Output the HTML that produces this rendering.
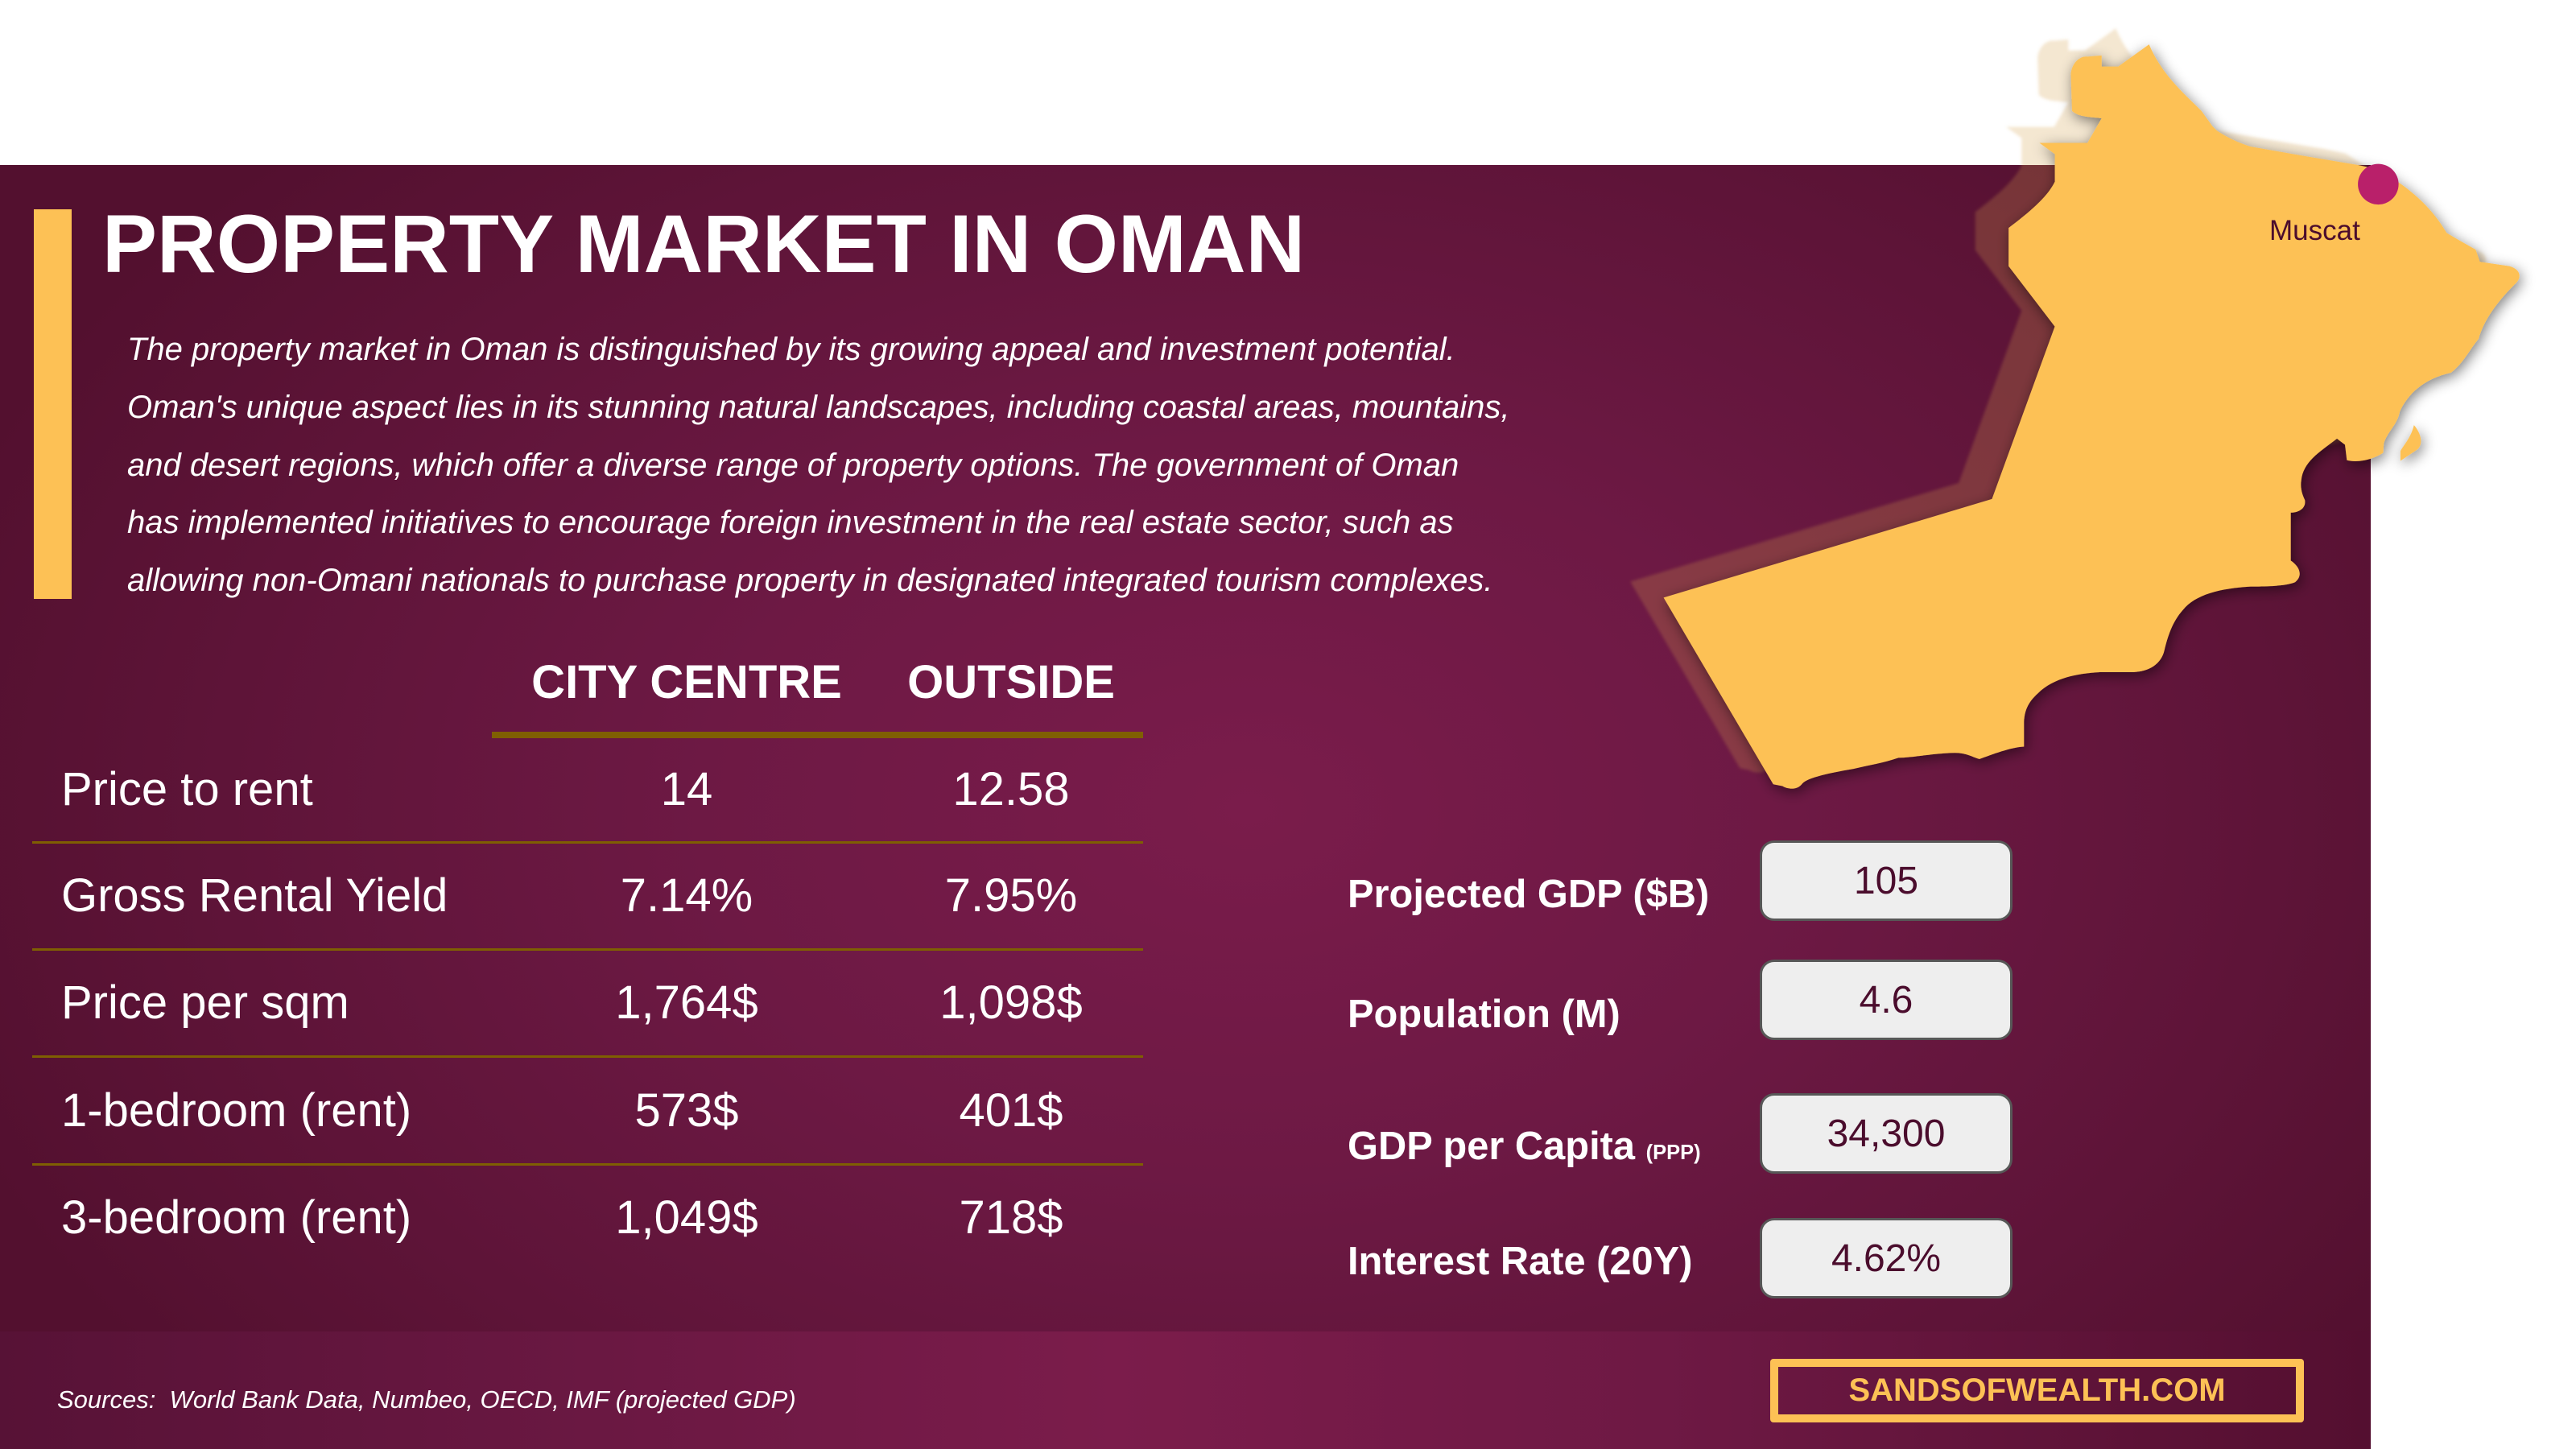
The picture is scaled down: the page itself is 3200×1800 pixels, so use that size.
<!DOCTYPE html>
<html>
<head>
<meta charset="utf-8">
<style>
  html, body { margin:0; padding:0; }
  body { width:3200px; height:1800px; position:relative; overflow:hidden; background:#ffffff;
         font-family:"Liberation Sans", Arial, Helvetica, sans-serif; }
  .abs { position:absolute; white-space:nowrap; line-height:1; }
  .panel { position:absolute; left:0; top:205px; width:2945px; height:1449px;
    background: radial-gradient(ellipse 1700px 1150px at 1550px 800px, #7a1c4b 0%, #6d1944 40%, #5e1438 75%, #53102f 100%); }
  .band { position:absolute; left:0; top:1654px; width:2945px; height:146px;
    background: linear-gradient(90deg, #571236 0%, #6a1842 25%, #7b1c4b 47%, #6e1944 70%, #540f30 100%); }
  .bar { position:absolute; left:42px; top:260px; width:47px; height:484px; background:#fdc155; }
  .title { font-size:102px; font-weight:bold; color:#fff; left:127px; top:252px; }
  .para { font-size:40px; font-style:italic; color:#fff; left:158px; }
  .hdr { font-size:58px; font-weight:bold; color:#fff; }
  .ctr { transform:translateX(-50%); }
  .lbl { font-size:58px; color:#fff; left:76px; }
  .val { font-size:58px; color:#fff; }
  .hline { position:absolute; background:#7f5f02; }
  .slbl { font-size:48.8px; font-weight:bold; color:#fff; left:1674px; }
  .box { position:absolute; left:2186px; width:314px; height:100px; box-sizing:border-box;
         border:3px solid #575757; border-radius:18px; background:#eeeeee; }
  .box span { position:absolute; left:0; right:0; top:23.5px; text-align:center; font-size:48px; line-height:1; color:#4b0d2d; }
  .web { position:absolute; left:2199px; top:1688px; width:663px; height:79px; box-sizing:border-box;
         border:10px solid #fdc155; border-radius:4px; }
  .web span { position:absolute; left:0; right:0; top:9px; text-align:center; font-size:40px; font-weight:bold; line-height:1; color:#fdc155; }
  .src { font-size:31px; font-style:italic; color:#fff; left:71px; top:1723px; }
</style>
</head>
<body>
  <div class="panel"></div>
  <div class="band"></div>

  <svg style="position:absolute;left:0;top:0" width="3200" height="1800" viewBox="0 0 3200 1800">
    <defs>
      <filter id="ds" x="-20%" y="-20%" width="140%" height="140%">
        <feGaussianBlur in="SourceAlpha" stdDeviation="11"/>
        <feOffset dx="3" dy="6" result="b"/>
        <feComponentTransfer><feFuncA type="linear" slope="0.5"/></feComponentTransfer>
        <feMerge><feMergeNode/><feMergeNode in="SourceGraphic"/></feMerge>
      </filter>
      <filter id="sb" x="-10%" y="-10%" width="120%" height="120%">
        <feGaussianBlur stdDeviation="2.5"/>
      </filter>
      <path id="oman" d="M 875 72 C 895 120, 930 150, 960 180 L 978 205 L 985 212 C 1000 222, 1020 232, 1040 238 L 1120 252 L 1215 268 L 1247 275 C 1290 300, 1330 330, 1358 378 L 1375 388 L 1405 405 L 1412 425 L 1460 432 C 1480 438, 1480 452, 1468 462 C 1440 490, 1418 520, 1410 550 C 1395 568, 1385 590, 1365 605 C 1320 615, 1295 640, 1282 668 C 1278 690, 1262 700, 1256 720 L 1255 735 C 1240 745, 1215 752, 1196 747 L 1193 722 L 1180 712 C 1150 735, 1125 750, 1122 780 C 1120 795, 1125 805, 1128 812 C 1130 825, 1118 832, 1105 832 L 1105 910 C 1120 920, 1125 935, 1112 945 C 1095 952, 1060 952, 1040 952 C 990 955, 950 965, 930 990 C 912 1010, 905 1035, 900 1055 C 895 1078, 875 1090, 850 1091 L 795 1091 C 760 1093, 720 1100, 695 1125 C 678 1140, 672 1155, 672 1175 L 672 1212 C 650 1213, 620 1225, 600 1232 C 590 1230, 580 1222, 560 1222 C 530 1222, 490 1230, 468 1230 C 445 1238, 420 1242, 395 1248 C 360 1254, 320 1262, 312 1272 C 305 1282, 290 1282, 280 1276 L 265 1273 L 87 970 L 620 810 L 722 530 L 647 432 L 647 370 C 680 345, 710 320, 722 295 L 722 250 L 697 232 L 775 232 L 798 192 C 780 190, 760 190, 750 180 L 748 120 C 750 100, 765 90, 775 92 L 798 90 L 798 108 L 825 108 Z"/>
      <path id="isl" d="M 1305 690 C 1318 705, 1320 722, 1310 730 L 1283 748 L 1283 732 C 1290 720, 1300 710, 1305 690 Z"/>
    </defs>
    <g transform="translate(2000 0) scale(0.76531)">
      <g transform="translate(-54 -26)" fill="#d2a045" fill-opacity="0.25" filter="url(#sb)">
        <use href="#oman"/>
      </g>
      <g filter="url(#ds)" fill="#fdc155">
        <use href="#oman"/>
        <use href="#isl"/>
      </g>
      <circle cx="1247" cy="299" r="33" fill="#b9206a"/>
    </g>
    <text x="2819" y="298" font-family="Liberation Sans, Arial, sans-serif" font-size="35" fill="#4b0d2d">Muscat</text>
  </svg>

  <div class="bar"></div>
  <div class="abs title">PROPERTY MARKET IN OMAN</div>

  <div class="abs para" style="top:414px">The property market in Oman is distinguished by its growing appeal and investment potential.</div>
  <div class="abs para" style="top:486px">Oman's unique aspect lies in its stunning natural landscapes, including coastal areas, mountains,</div>
  <div class="abs para" style="top:558px">and desert regions, which offer a diverse range of property options. The government of Oman</div>
  <div class="abs para" style="top:629px">has implemented initiatives to encourage foreign investment in the real estate sector, such as</div>
  <div class="abs para" style="top:701px">allowing non-Omani nationals to purchase property in designated integrated tourism complexes.</div>

  <div class="abs hdr ctr" style="left:853px; top:819px">CITY CENTRE</div>
  <div class="abs hdr ctr" style="left:1256px; top:819px">OUTSIDE</div>
  <div class="hline" style="left:611px; top:909px; width:809px; height:8px;"></div>

  <div class="abs lbl" style="top:952px">Price to rent</div>
  <div class="abs val ctr" style="left:853px; top:952px">14</div>
  <div class="abs val ctr" style="left:1256px; top:952px">12.58</div>
  <div class="hline" style="left:40px; top:1045px; width:1380px; height:3px;"></div>

  <div class="abs lbl" style="top:1084px">Gross Rental Yield</div>
  <div class="abs val ctr" style="left:853px; top:1084px">7.14%</div>
  <div class="abs val ctr" style="left:1256px; top:1084px">7.95%</div>
  <div class="hline" style="left:40px; top:1178px; width:1380px; height:3px;"></div>

  <div class="abs lbl" style="top:1217px">Price per sqm</div>
  <div class="abs val ctr" style="left:853px; top:1217px">1,764$</div>
  <div class="abs val ctr" style="left:1256px; top:1217px">1,098$</div>
  <div class="hline" style="left:40px; top:1311px; width:1380px; height:3px;"></div>

  <div class="abs lbl" style="top:1351px">1-bedroom (rent)</div>
  <div class="abs val ctr" style="left:853px; top:1351px">573$</div>
  <div class="abs val ctr" style="left:1256px; top:1351px">401$</div>
  <div class="hline" style="left:40px; top:1445px; width:1380px; height:3px;"></div>

  <div class="abs lbl" style="top:1484px">3-bedroom (rent)</div>
  <div class="abs val ctr" style="left:853px; top:1484px">1,049$</div>
  <div class="abs val ctr" style="left:1256px; top:1484px">718$</div>

  <div class="abs slbl" style="top:1087px">Projected GDP ($B)</div>
  <div class="abs slbl" style="top:1236px">Population (M)</div>
  <div class="abs slbl" style="top:1400px">GDP per Capita <span style="font-size:25.5px">(PPP)</span></div>
  <div class="abs slbl" style="top:1543px">Interest Rate (20Y)</div>

  <div class="box" style="top:1044px"><span>105</span></div>
  <div class="box" style="top:1192px"><span>4.6</span></div>
  <div class="box" style="top:1358px"><span>34,300</span></div>
  <div class="box" style="top:1513px"><span>4.62%</span></div>

  <div class="abs src">Sources:&nbsp; World Bank Data, Numbeo, OECD, IMF (projected GDP)</div>

  <div class="web"><span>SANDSOFWEALTH.COM</span></div>
</body>
</html>
